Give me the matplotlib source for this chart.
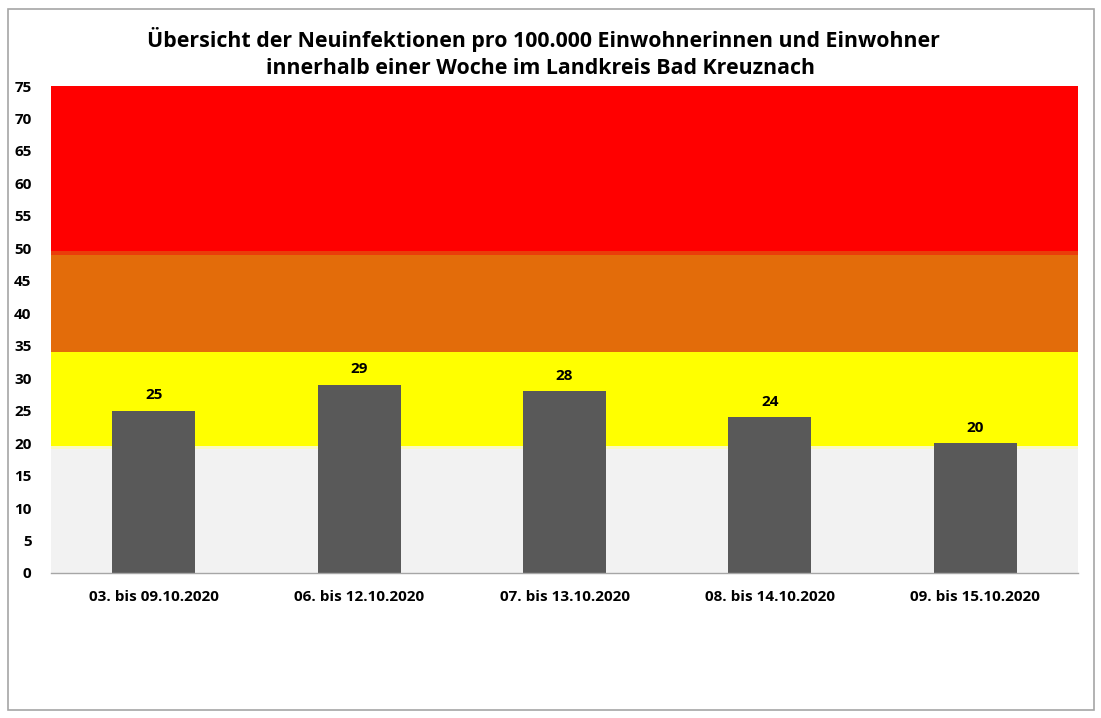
import matplotlib.pyplot as plt
import matplotlib.patches as mpatches

# Data
categories = ['03. bis 09.10.2020', '06. bis 12.10.2020', '07. bis 13.10.2020',
              '08. bis 14.10.2020', '09. bis 15.10.2020']
values = [25, 29, 28, 24, 20]

# background bands (lower, upper, colour)
band_lows = [0, 19.4, 34, 49.4]
band_highs = [19.4, 34, 49.4, 75]
band_colors = ['#f2f2f2', '#ffff00', '#e36c0a', '#ff0000']

y_ticks = list(range(0, 80, 5))

plt.rcParams['font.family'] = ['Open Sans', 'DejaVu Sans']

fig = plt.figure(figsize=(11.01, 7.18), dpi=100)
fig.patch.set_facecolor('white')

# outer frame
frame = mpatches.Rectangle((8 / 1101, 8 / 718), 1086 / 1101, 701 / 718,
                           transform=fig.transFigure, fill=False,
                           edgecolor='#a6a6a6', linewidth=1.2)
fig.patches.append(frame)

ax = fig.add_axes([51 / 1101, 145 / 718, 1027 / 1101, 487 / 718])

for lo, hi, c in zip(band_lows, band_highs, band_colors):
    ax.axhspan(lo, hi, color=c, zorder=0, linewidth=0)
# soft transitions between bands
ax.axhspan(19.1, 19.6, color='#fafac0', zorder=0.5, linewidth=0)
ax.axhspan(48.9, 49.6, color='#eb3c0a', zorder=0.5, linewidth=0)

x = range(len(categories))
ax.bar(x, values, width=0.405, color='#595959', zorder=2)

for xi, v in zip(x, values):
    ax.text(xi, v + 1.3, str(v), ha='center', va='bottom', fontsize=11,
            fontweight='bold', color='black', zorder=3)

ax.set_xlim(-0.5, len(categories) - 0.5)
ax.set_ylim(0, 75)
ax.set_yticks(y_ticks)
ax.set_xticks(list(x))
ax.set_xticklabels(categories)
ax.tick_params(axis='both', length=0, labelsize=11)
ax.tick_params(axis='x', pad=12)
ax.tick_params(axis='y', pad=14)
for lbl in ax.get_xticklabels() + ax.get_yticklabels():
    lbl.set_fontweight('bold')

for s in ['top', 'right', 'left']:
    ax.spines[s].set_visible(False)
ax.spines['bottom'].set_color('#a6a6a6')
ax.spines['bottom'].set_linewidth(1.0)

fig.text(543 / 1101, 1 - 39 / 718,
         'Übersicht der Neuinfektionen pro 100.000 Einwohnerinnen und Einwohner',
         ha='center', va='center', fontsize=15.4, fontweight='bold')
fig.text(541 / 1101, 1 - 69 / 718,
         'innerhalb einer Woche im Landkreis Bad Kreuznach',
         ha='center', va='center', fontsize=15.4, fontweight='bold')

plt.savefig('out.png', dpi=100, facecolor='white')
plt.close()
